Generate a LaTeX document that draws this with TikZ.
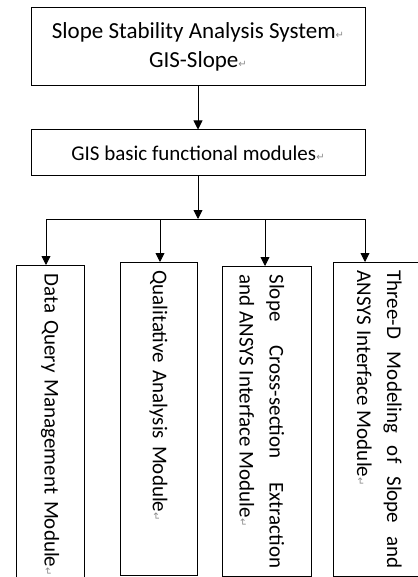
\documentclass[tikz,border=0pt]{standalone}
\usepackage{fontspec}
\setmainfont{Carlito}
\newfontfamily\dejavu{DejaVu Sans}
\usetikzlibrary{arrows.meta}
\newcommand{\parmark}{{\color{black!45}\fontsize{10}{10}\selectfont\dejavu ↵}}
\tikzset{
  box/.style={draw, line width=1pt, rectangle, inner sep=0pt},
  modbox/.style={draw, line width=1pt, rectangle, rotate=-90, anchor=west,
    inner xsep=8pt, inner ysep=0pt, font=\fontsize{21}{30}\selectfont},
  arr/.style={line width=0.9pt, -{Triangle[length=9pt,width=9pt]}},
  bus/.style={line width=0.9pt}
}

\begin{document}
\begin{tikzpicture}[x=1pt,y=-1pt]
			%%%%% START %%%%%
			\useasboundingbox (0, 0) rectangle (417, 577);
			
			\node[box, minimum width=334, minimum height=78, align=center,
			      font=\fontsize{23}{29}\selectfont] (sys) at (198, 46.5)
			      {Slope Stability Analysis System\parmark\\GIS-Slope\parmark};
			\node[box, minimum width=334, minimum height=46,
			      font=\fontsize{21}{29}\selectfont] (gis) at (198, 153)
			      {GIS basic functional modules\parmark};
			
			\draw[arr] (sys) -- (gis);
			
			\node[modbox, minimum width=325, minimum height=68, text width=309pt, align=left] (m1) at (50, 265)
			      {Data Query Management Module\parmark};
			\node[modbox, minimum width=313, minimum height=77, text width=297pt, align=left] (m2) at (158.5, 262)
			      {Qualitative Analysis Module\parmark};
			\node[modbox, minimum width=310, minimum height=89, text width=294pt, align=justify,
			      text height=20pt, text depth=26pt] (m3) at (266.5, 266)
			      {Slope Cross-section Extraction\linebreak and ANSYS Interface Module\parmark};
			\node[modbox, minimum width=314, minimum height=88, text width=298pt, align=justify,
			      text height=18pt, text depth=38pt] (m4) at (377, 262)
			      {Three-D Modeling of Slope and\linebreak ANSYS Interface Module\parmark};
			
			%% bus
			\coordinate (bus) at (198, 219);
			\coordinate (b1) at (46, 219);
			\coordinate (b2) at (160, 219);
			\coordinate (b3) at (265, 219);
			\coordinate (b4) at (365, 219);
			
			\draw[arr] (gis) -- (bus);
			\draw[bus] (b1) -- (b4);
			\draw[arr] (b1) -- (b1 |- m1.west);
			\draw[arr] (b2) -- (b2 |- m2.west);
			\draw[arr] (b3) -- (b3 |- m3.west);
			\draw[arr] (b4) -- (b4 |- m4.west);
			
			%%%%% END %%%%%
		\end{tikzpicture}
\end{document}
